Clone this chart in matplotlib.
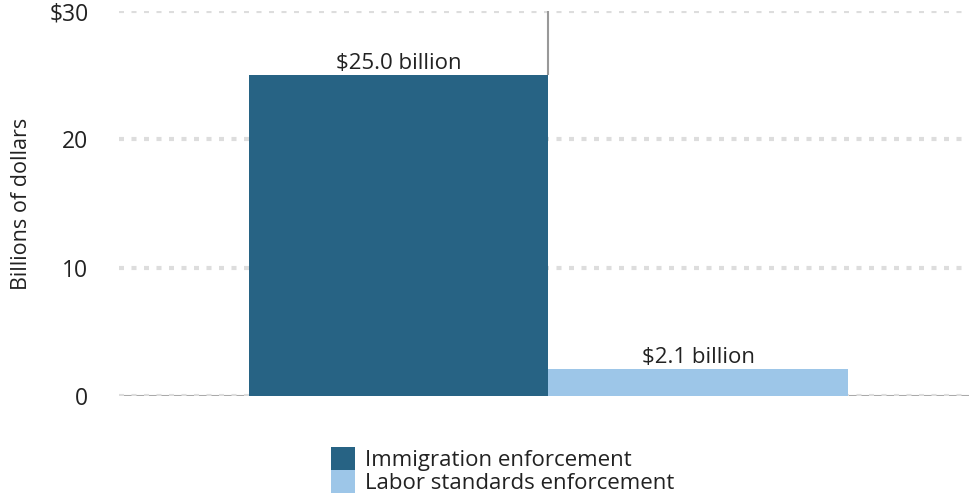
import matplotlib.pyplot as plt
from matplotlib.patches import Rectangle

categories = ['Immigration enforcement', 'Labor standards enforcement']
values = [25.0, 2.1]
labels = ['$25.0 billion', '$2.1 billion']
colors = ['#276384', '#9dc6e8']
yticks = [0, 10, 20, 30]
ytick_labels = ['0', '10', '20', '$30']

plt.rcParams['font.family'] = ['Open Sans', 'DejaVu Sans']

W, H = 969, 495
fig = plt.figure(figsize=(W / 100, H / 100), dpi=100)
ax = fig.add_axes([119 / W, 1 - 396 / H, 850 / W, 385 / H])

x = list(range(len(values)))
ax.bar(x, values, width=1.0, color=colors, zorder=3)
for xi, v, lab in zip(x, values, labels):
    ax.text(xi, v + 0.12, lab, ha='center', va='bottom', fontsize=16, color='#222222', zorder=4)

ax.vlines(0.5, values[0], 30, color='#999999', lw=1.5, zorder=2)

ax.set_xlim(-0.932, 1.902)
ax.set_ylim(0, 30)
ax.set_yticks(yticks)
ax.set_yticklabels(ytick_labels, fontsize=16.5, color='#222222')
ax.set_xticks([])
ax.tick_params(axis='y', length=0, pad=22)
for s in ax.spines.values():
    s.set_visible(False)
ax.grid(axis='y', color='#dddddd', lw=3, linestyle=(0, (1.2, 1.8)), zorder=0)
ax.axhline(0, color='#aaaaaa', lw=1.5, zorder=1)
ax.set_ylabel('Billions of dollars', fontsize=15.5, color='#222222')
ax.yaxis.set_label_coords(-(119 - 32) / 850, 0.5)

# legend drawn by hand: stacked swatches touching each other
top = 447
row_h = 23
for i, (cat, c) in enumerate(zip(categories, colors)):
    y0 = top + i * row_h
    fig.patches.append(Rectangle((331 / W, 1 - (y0 + row_h) / H), 24 / W, row_h / H,
                                 transform=fig.transFigure, facecolor=c, edgecolor='none'))
    fig.text(365 / W, 1 - (y0 + row_h / 2 + 2) / H, cat, ha='left', va='center',
             fontsize=16, color='#222222')

fig.savefig('out.png', dpi=100)
